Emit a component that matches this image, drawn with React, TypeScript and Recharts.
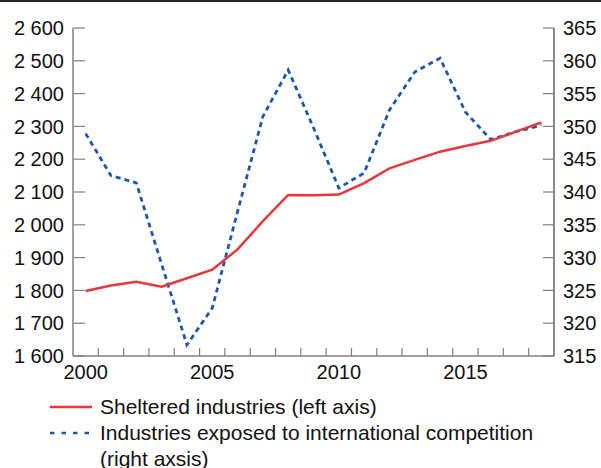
import React from 'react';
import { LineChart, Line, XAxis, YAxis, Legend } from 'recharts';

// Years and series values
const years = [2000, 2001, 2002, 2003, 2004, 2005, 2006, 2007, 2008, 2009, 2010, 2011, 2012, 2013, 2014, 2015, 2016, 2017, 2018];
const sheltered = [1798, 1815, 1826, 1811, 1837, 1863, 1925, 2011, 2091, 2090, 2092, 2127, 2172, 2198, 2223, 2240, 2256, 2284, 2312];
const exposed = [348.9, 342.5, 341.4, 329.0, 316.7, 322.3, 337.0, 351.5, 358.6, 349.8, 340.6, 342.9, 352.5, 358.3, 360.4, 352.2, 348.0, 349.2, 350.2];

const yearLabels = [2000, 2005, 2010, 2015];
const leftTicks = [1600, 1700, 1800, 1900, 2000, 2100, 2200, 2300, 2400, 2500, 2600];
const rightTicks = [315, 320, 325, 330, 335, 340, 345, 350, 355, 360, 365];

const seriesNames = {
  sheltered: 'Sheltered industries (left axis)',
  exposed: 'Industries exposed to international competition (right axsis)',
};

const RED = '#e8363d';
const BLUE = '#1d58a8';
const FONT = '"Liberation Sans", Arial, sans-serif';

const data = years.map((year, i) => ({ year, sheltered: sheltered[i], exposed: exposed[i] }));
const minorTicks = years.slice(0, -1).map((y) => y + 0.5);
const xTicks = [...yearLabels, ...minorTicks].sort((a, b) => a - b);

const fmtThousands = (v: number) =>
  v >= 1000 ? `${Math.floor(v / 1000)} ${String(v % 1000).padStart(3, '0')}` : String(v);

const BottomTick = (props: any) => {
  const { x, y, payload } = props;
  const v = payload.value;
  if (Number.isInteger(v)) {
    return (
      <text x={x} y={y} dy="0.71em" textAnchor="middle" fontSize={20} fill="#111" fontFamily={FONT}>
        {v}
      </text>
    );
  }
  return <line x1={x} x2={x} y1={y - 9} y2={y - 17} stroke="#808080" strokeWidth={1.2} />;
};

const LeftTick = (props: any) => {
  const { x, y, payload } = props;
  return (
    <g>
      <line x1={x + 9} x2={x + 21} y1={y} y2={y} stroke="#808080" strokeWidth={1.2} />
      <text x={x} y={y} dy="0.355em" textAnchor="end" fontSize={20} fill="#111" fontFamily={FONT}>
        {fmtThousands(payload.value)}
      </text>
    </g>
  );
};

const RightTick = (props: any) => {
  const { x, y, payload } = props;
  return (
    <g>
      <line x1={x - 9} x2={x - 20} y1={y} y2={y} stroke="#808080" strokeWidth={1.2} />
      <text x={x} y={y} dy="0.355em" textAnchor="start" fontSize={20} fill="#111" fontFamily={FONT}>
        {payload.value}
      </text>
    </g>
  );
};

const LegendContent = (props: any) => {
  const { payload } = props;
  return (
    <div style={{ paddingLeft: 50, fontFamily: FONT, fontSize: 21, color: '#111', textAlign: 'left' }}>
      {(payload || []).map((item: any) => (
        <div key={item.value} style={{ display: 'flex', alignItems: 'flex-start', lineHeight: '25.5px' }}>
          <svg width={50} height={26} style={{ flex: 'none' }}>
            <line
              x1={0}
              x2={42}
              y1={13}
              y2={13}
              stroke={item.color}
              strokeWidth={item.dataKey === 'exposed' ? 2.6 : 2.4}
              strokeDasharray={item.dataKey === 'exposed' ? '4.5 7' : undefined}
            />
          </svg>
          <span style={{ width: 470 }}>{seriesNames[item.dataKey as keyof typeof seriesNames]}</span>
        </div>
      ))}
    </div>
  );
};

export default function App() {
  return (
    <div style={{ position: 'relative', width: 601, height: 468, background: '#fff', overflow: 'hidden' }}>
      <style>{`body{margin:0;}`}</style>
      <div style={{ position: 'absolute', top: 0, left: 0, width: 601, height: 2, background: '#2a2a2a' }} />
      <LineChart width={601} height={468} data={data} margin={{ top: 28, right: 0, bottom: 82, left: 0 }}>
        <XAxis
          dataKey="year"
          type="number"
          domain={[1999.5, 2018.5]}
          ticks={xTicks}
          interval={0}
          tickLine={false}
          tickSize={0}
          tickMargin={9}
          height={30}
          axisLine={{ stroke: '#808080', strokeWidth: 1.5 }}
          tick={<BottomTick />}
        />
        <YAxis
          yAxisId="left"
          orientation="left"
          width={73}
          domain={[1600, 2600]}
          ticks={leftTicks}
          interval={0}
          tickLine={false}
          tickSize={0}
          tickMargin={9}
          axisLine={{ stroke: '#808080', strokeWidth: 1.5 }}
          tick={<LeftTick />}
        />
        <YAxis
          yAxisId="right"
          orientation="right"
          width={47}
          domain={[315, 365]}
          ticks={rightTicks}
          interval={0}
          tickLine={false}
          tickSize={0}
          tickMargin={9}
          axisLine={{ stroke: '#4a4a4a', strokeWidth: 1.3 }}
          tick={<RightTick />}
        />
        <Line
          yAxisId="right"
          dataKey="exposed"
          type="linear"
          stroke={BLUE}
          strokeWidth={2.8}
          strokeDasharray="5 4"
          dot={false}
          isAnimationActive={false}
        />
        <Line
          yAxisId="left"
          dataKey="sheltered"
          type="linear"
          stroke={RED}
          strokeWidth={2.5}
          dot={false}
          isAnimationActive={false}
        />
        <Legend
          layout="horizontal"
          verticalAlign="middle"
          align="center"
          itemSorter={(item: any) => (item.dataKey === 'sheltered' ? 0 : 1)}
          wrapperStyle={{ top: 394, left: 0, width: 601 }}
          content={<LegendContent />}
        />
      </LineChart>
    </div>
  );
}
